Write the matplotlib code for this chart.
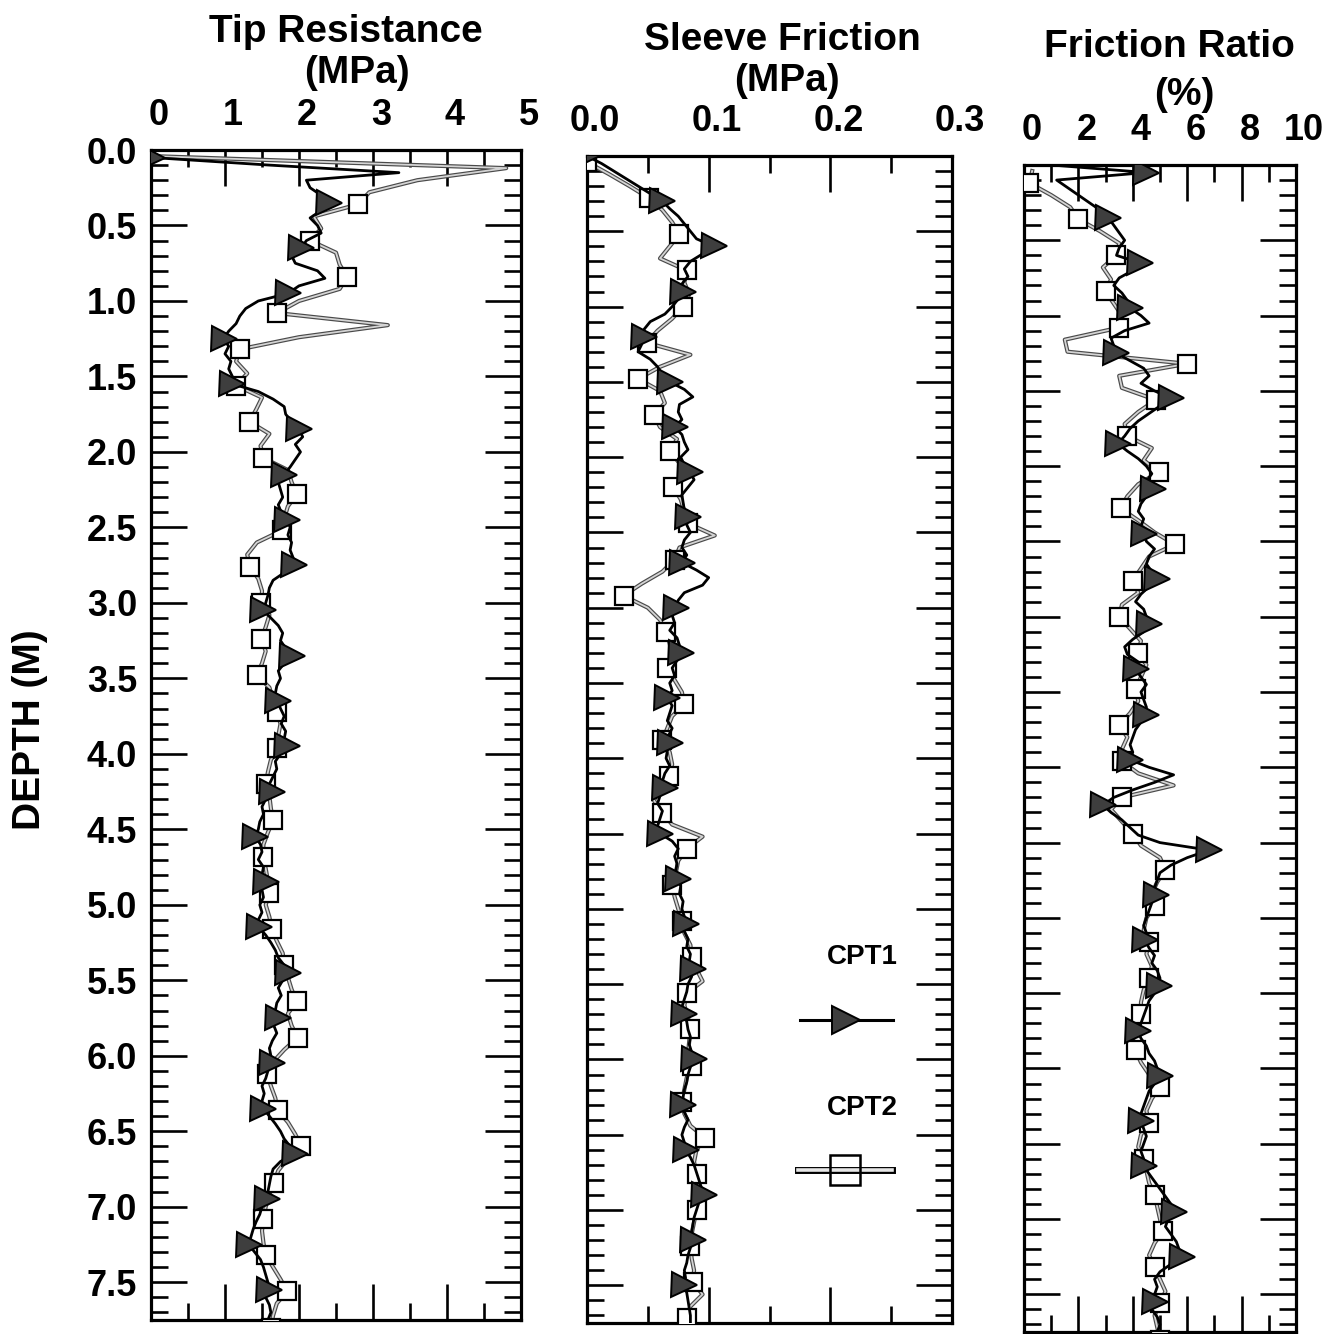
import numpy as np
import matplotlib
matplotlib.use("Agg")
import matplotlib.pyplot as plt
from matplotlib.ticker import MultipleLocator, FormatStrFormatter
from matplotlib.lines import Line2D
from matplotlib.transforms import ScaledTranslation
import matplotlib.patheffects as pe

plt.rcParams["font.family"] = ["Liberation Sans", "DejaVu Sans"]
plt.rcParams["font.weight"] = "bold"

# ---------------------------------------------------------------- data
# depth grids (m) of the two soundings
depth_cpt1 = np.round(np.arange(0.0, 7.751, 0.05), 2)
depth_cpt2 = np.round(np.arange(0.04, 7.81, 0.08), 2)

# tip resistance qc (MPa)
qc_cpt1 = [
    0.00, 0.02, 1.60, 3.35, 2.10, 2.15, 2.30, 2.40, 2.30, 2.15,
    2.25, 2.30, 2.10, 2.03, 1.90, 1.95, 2.25, 2.35, 2.00, 1.85,
    1.45, 1.28, 1.20, 1.15, 1.05, 0.98, 1.05, 1.00, 1.08, 1.05,
    1.10, 1.10, 1.45, 1.65, 1.80, 1.82, 1.90, 2.00, 2.05, 1.95,
    2.02, 1.95, 1.88, 1.80, 1.72, 1.75, 1.78, 1.72, 1.76, 1.84,
    1.88, 1.85, 1.90, 1.88, 1.92, 1.93, 1.80, 1.65, 1.60, 1.58,
    1.55, 1.52, 1.62, 1.72, 1.78, 1.75, 1.82, 1.90, 1.80, 1.72,
    1.75, 1.70, 1.68, 1.71, 1.75, 1.80, 1.76, 1.82, 1.80, 1.84,
    1.75, 1.68, 1.70, 1.65, 1.60, 1.63, 1.55, 1.50, 1.52, 1.47,
    1.45, 1.41, 1.48, 1.50, 1.45, 1.52, 1.50, 1.55, 1.50, 1.52,
    1.47, 1.50, 1.45, 1.46, 1.55, 1.62, 1.68, 1.72, 1.80, 1.85,
    1.78, 1.72, 1.76, 1.70, 1.68, 1.72, 1.66, 1.70, 1.64, 1.60,
    1.62, 1.63, 1.58, 1.55, 1.50, 1.53, 1.50, 1.52, 1.60, 1.68,
    1.75, 1.80, 1.88, 1.94, 1.75, 1.65, 1.62, 1.60, 1.58, 1.57,
    1.50, 1.47, 1.42, 1.38, 1.35, 1.32, 1.40, 1.48, 1.52, 1.55,
    1.58, 1.60, 1.55, 1.60, 1.62, 1.58,
]
qc_cpt2 = [
    0.00, 4.80, 3.60, 2.95, 2.80, 2.20, 2.30, 2.15, 2.50, 2.55,
    2.65, 2.55, 2.00, 1.70, 3.20, 2.00, 1.20, 1.15, 1.30, 1.15,
    1.50, 1.42, 1.33, 1.60, 1.48, 1.52, 1.85, 1.90, 1.97, 1.85,
    1.80, 1.77, 1.43, 1.30, 1.34, 1.45, 1.50, 1.49, 1.60, 1.55,
    1.49, 1.55, 1.50, 1.43, 1.60, 1.65, 1.70, 1.75, 1.72, 1.70,
    1.62, 1.58, 1.55, 1.60, 1.62, 1.65, 1.58, 1.52, 1.51, 1.55,
    1.58, 1.60, 1.55, 1.60, 1.63, 1.70, 1.78, 1.80, 1.85, 1.90,
    1.97, 1.85, 1.90, 1.98, 1.80, 1.65, 1.57, 1.62, 1.68, 1.71,
    1.85, 1.95, 2.03, 1.85, 1.72, 1.66, 1.60, 1.55, 1.52, 1.50,
    1.52, 1.55, 1.65, 1.75, 1.84, 1.70, 1.65, 1.62,
]

# sleeve friction fs (MPa)
fs_cpt1 = [
    0.000, 0.012, 0.022, 0.032, 0.042, 0.052, 0.062, 0.068, 0.075, 0.080,
    0.085, 0.090, 0.104, 0.095, 0.085, 0.080, 0.083, 0.078, 0.079, 0.075,
    0.070, 0.064, 0.052, 0.047, 0.047, 0.045, 0.042, 0.052, 0.058, 0.062,
    0.068, 0.080, 0.087, 0.076, 0.075, 0.078, 0.072, 0.078, 0.080, 0.083,
    0.077, 0.080, 0.085, 0.088, 0.083, 0.078, 0.079, 0.080, 0.083, 0.082,
    0.085, 0.080, 0.078, 0.082, 0.078, 0.090, 0.100, 0.095, 0.080, 0.075,
    0.073, 0.070, 0.072, 0.068, 0.074, 0.076, 0.077, 0.074, 0.070, 0.072,
    0.068, 0.070, 0.066, 0.070, 0.068, 0.066, 0.070, 0.067, 0.068, 0.066,
    0.065, 0.068, 0.064, 0.062, 0.064, 0.060, 0.058, 0.062, 0.060, 0.058,
    0.060, 0.070, 0.075, 0.072, 0.074, 0.073, 0.075, 0.077, 0.076, 0.079,
    0.078, 0.080, 0.081, 0.080, 0.083, 0.082, 0.085, 0.084, 0.087, 0.086,
    0.083, 0.082, 0.080, 0.078, 0.080, 0.082, 0.083, 0.085, 0.084, 0.086,
    0.088, 0.085, 0.083, 0.082, 0.080, 0.079, 0.079, 0.080, 0.083, 0.080,
    0.078, 0.080, 0.081, 0.085, 0.088, 0.090, 0.092, 0.094, 0.096, 0.092,
    0.090, 0.088, 0.087, 0.086, 0.087, 0.085, 0.083, 0.082, 0.080, 0.081,
    0.080, 0.082, 0.083, 0.084, 0.085, 0.085,
]
fs_cpt2 = [
    0.000, 0.018, 0.035, 0.051, 0.062, 0.070, 0.076, 0.068, 0.060, 0.082,
    0.080, 0.084, 0.079, 0.070, 0.058, 0.049, 0.085, 0.060, 0.042, 0.060,
    0.064, 0.055, 0.060, 0.074, 0.068, 0.076, 0.081, 0.071, 0.077, 0.080,
    0.083, 0.105, 0.076, 0.072, 0.062, 0.045, 0.030, 0.050, 0.060, 0.065,
    0.068, 0.070, 0.066, 0.072, 0.078, 0.080, 0.070, 0.066, 0.062, 0.068,
    0.070, 0.067, 0.060, 0.055, 0.062, 0.070, 0.095, 0.082, 0.075, 0.073,
    0.070, 0.072, 0.075, 0.078, 0.080, 0.085, 0.086, 0.090, 0.095, 0.082,
    0.080, 0.083, 0.085, 0.084, 0.083, 0.086, 0.082, 0.080, 0.078, 0.080,
    0.085, 0.097, 0.090, 0.088, 0.090, 0.092, 0.093, 0.090, 0.088, 0.086,
    0.085, 0.086, 0.088, 0.087, 0.095, 0.085, 0.082, 0.083,
]

# friction ratio Rf (%)
rf_cpt1 = [
    1.00, 4.50, 1.20, 1.60, 2.00, 2.40, 2.80, 3.10, 3.30, 3.50,
    3.70, 3.50, 3.40, 4.25, 4.00, 3.50, 3.30, 3.60, 3.80, 3.90,
    4.30, 4.60, 3.70, 3.20, 3.30, 3.40, 3.90, 4.40, 4.60, 4.30,
    4.80, 5.40, 5.00, 4.60, 4.20, 3.90, 3.70, 3.45, 3.80, 4.20,
    4.50, 4.70, 4.50, 4.75, 4.50, 4.30, 4.20, 4.40, 4.30, 4.40,
    4.50, 4.80, 4.60, 4.50, 4.70, 4.90, 4.60, 4.30, 4.10, 4.40,
    4.50, 4.60, 4.40, 4.00, 3.70, 3.80, 4.20, 4.10, 4.30, 4.50,
    4.30, 4.40, 4.50, 4.50, 4.30, 4.10, 4.00, 3.90, 4.00, 3.90,
    4.60, 5.50, 4.80, 4.00, 3.30, 2.90, 3.20, 3.60, 3.90, 4.20,
    5.00, 6.80, 6.00, 5.40, 5.00, 4.90, 4.80, 4.85, 4.70, 4.60,
    4.50, 4.40, 4.50, 4.45, 4.60, 4.80, 4.70, 4.90, 5.00, 4.95,
    4.80, 4.60, 4.50, 4.40, 4.30, 4.20, 4.30, 4.50, 4.60, 4.80,
    4.90, 5.00, 4.80, 4.60, 4.50, 4.40, 4.30, 4.30, 4.40, 4.50,
    4.40, 4.30, 4.40, 4.40, 4.60, 4.80, 5.00, 5.20, 5.40, 5.50,
    5.30, 5.20, 5.40, 5.60, 5.70, 5.80, 5.40, 5.00, 4.80, 4.90,
    4.80, 4.80, 4.70, 4.90, 5.00, 4.90,
]
rf_cpt2 = [
    0.30, 0.20, 1.00, 1.70, 2.00, 2.80, 3.50, 3.40, 2.90, 3.20,
    3.00, 3.30, 3.60, 3.50, 1.50, 1.60, 6.00, 3.50, 3.60, 4.85,
    4.20, 3.70, 3.80, 4.70, 4.40, 4.95, 4.20, 3.80, 3.55, 4.20,
    4.80, 5.55, 4.60, 4.30, 4.00, 4.20, 3.60, 3.50, 3.90, 4.30,
    4.20, 4.50, 4.30, 4.10, 4.20, 3.90, 3.50, 3.80, 3.60, 3.60,
    4.20, 5.50, 3.60, 3.20, 3.60, 4.00, 4.30, 5.00, 5.20, 4.90,
    4.70, 4.80, 4.50, 4.40, 4.60, 4.50, 4.70, 4.60, 4.40, 4.30,
    4.30, 4.10, 4.00, 4.10, 4.30, 4.60, 5.00, 4.70, 4.50, 4.60,
    4.30, 4.20, 4.40, 4.50, 4.60, 4.80, 4.90, 5.00, 5.10, 4.80,
    4.60, 4.80, 5.00, 5.20, 5.00, 4.80, 4.90, 5.00,
]

panel_titles = [("Tip Resistance", "(MPa)"), ("Sleeve Friction", "(MPa)"),
                ("Friction Ratio", "(%)")]
series_labels = ["CPT1", "CPT2"]

# ---------------------------------------------------------------- figure
W, H = 1340, 1334
fig = plt.figure(figsize=(W / 100, H / 100), dpi=100)


def px_box(left, top, right, bottom):
    return [left / W, 1 - bottom / H, (right - left) / W, (bottom - top) / H]


def px(x, y):
    return x / W, 1 - y / H


ax1 = fig.add_axes(px_box(151, 150, 521, 1320))
ax2 = fig.add_axes(px_box(587, 156, 952, 1323))
ax3 = fig.add_axes(px_box(1024, 165, 1296, 1332))

panels = [
    (ax1, qc_cpt1, qc_cpt2, (0, 5), 1.0, 0.5, "%d", (1, 6), (4, 3)),
    (ax2, fs_cpt1, fs_cpt2, (0, 0.3), 0.1, 0.05, "%.1f", (0, 6), (0, 3)),
    (ax3, rf_cpt1, rf_cpt2, (0, 10), 2.0, 1.0, "%d", (1, 6), (1, 3)),
]

TRI = dict(marker=">", ms=18, mfc="#3e3e3e", mec="black", mew=1.4)
SQR = dict(marker="s", ms=13.5, mfc="white", mec="black", mew=1.6)
grey_line = [pe.Stroke(linewidth=3.0, foreground="#4a4a4a"), pe.Normal()]

for ax, v1, v2, xlim, xmaj, xmin, fmt, mk1, mk2 in panels:
    # CPT2: light line with a dark rim, open squares
    ax.plot(v2, depth_cpt2, color="#d4d4d4", lw=1.3, path_effects=grey_line,
            zorder=2, solid_joinstyle="round")
    ax.plot(v2, depth_cpt2, ls="none", markevery=slice(mk2[0], None, mk2[1]),
            zorder=3, **SQR)
    # CPT1: solid black line, dark triangles
    ax.plot(v1, depth_cpt1, color="black", lw=2.0, zorder=4,
            solid_joinstyle="round")
    ax.plot(v1, depth_cpt1, ls="none", markevery=slice(mk1[0], None, mk1[1]),
            zorder=5, **TRI)

    ax.set_xlim(*xlim)
    ax.set_ylim(7.75, 0)
    ax.xaxis.set_major_locator(MultipleLocator(xmaj))
    ax.xaxis.set_minor_locator(MultipleLocator(xmin))
    ax.xaxis.set_major_formatter(FormatStrFormatter(fmt))
    ax.yaxis.set_major_locator(MultipleLocator(0.5))
    ax.yaxis.set_minor_locator(MultipleLocator(0.1))
    ax.yaxis.set_major_formatter(FormatStrFormatter("%.1f"))
    ax.tick_params(which="both", direction="in", top=True, bottom=True,
                   left=True, right=True, labeltop=True, labelbottom=False,
                   width=1.9, colors="black")
    ax.tick_params(which="major", length=26, labelsize=26, pad=12.5)
    ax.tick_params(which="minor", length=12)
    ax.tick_params(axis="y", labelleft=(ax is ax1), pad=10)
    for sp in ax.spines.values():
        sp.set_linewidth(2.3)
    shift = ScaledTranslation(0.08, 0, fig.dpi_scale_trans)
    for lab in ax.get_xticklabels():
        lab.set_transform(lab.get_transform() + shift)
        lab.set_fontweight("bold")
    for lab in ax.get_yticklabels():
        lab.set_fontweight("bold")

# panel headings
heads = [(346, 42, 357, 83), (782, 50, 787, 91), (1169, 57, 1184, 105)]
for (t1, t2), (x1, y1, x2, y2) in zip(panel_titles, heads):
    fig.text(*px(x1, y1), t1, ha="center", va="baseline", fontsize=28,
             fontweight="bold")
    fig.text(*px(x2, y2), t2, ha="center", va="baseline", fontsize=28,
             fontweight="bold")

fig.text(*px(30, 730), "DEPTH (M)", rotation=90, ha="center", va="center",
         fontsize=28, fontweight="bold")

# key inside the sleeve-friction panel
fig.text(*px(862, 957), series_labels[0], ha="center", va="center",
         fontsize=20, fontweight="bold")
fig.text(*px(862, 1108), series_labels[1], ha="center", va="center",
         fontsize=20, fontweight="bold")
xa, ya = px(800, 1020)
xb, _ = px(893, 1020)
xm, _ = px(846, 1020)
fig.add_artist(Line2D([xa, xb], [ya, ya], color="black", lw=2.2,
                      transform=fig.transFigure))
fig.add_artist(Line2D([xm], [ya], ls="none", marker=">", ms=20,
                      mfc="#3e3e3e", mec="black", mew=1.4,
                      transform=fig.transFigure))
xa, ya = px(798, 1170)
xb, _ = px(892, 1170)
xm, _ = px(845, 1170)
fig.add_artist(Line2D([xa, xb], [ya, ya], color="#e6e6e6", lw=2.6,
                      path_effects=[pe.Stroke(linewidth=5.0, foreground="black"),
                                    pe.Normal()],
                      transform=fig.transFigure))
fig.add_artist(Line2D([xm], [ya], ls="none", marker="s", ms=21,
                      mfc="none", mec="black", mew=1.8,
                      transform=fig.transFigure))

fig.savefig("out.png", dpi=100, facecolor="white")
